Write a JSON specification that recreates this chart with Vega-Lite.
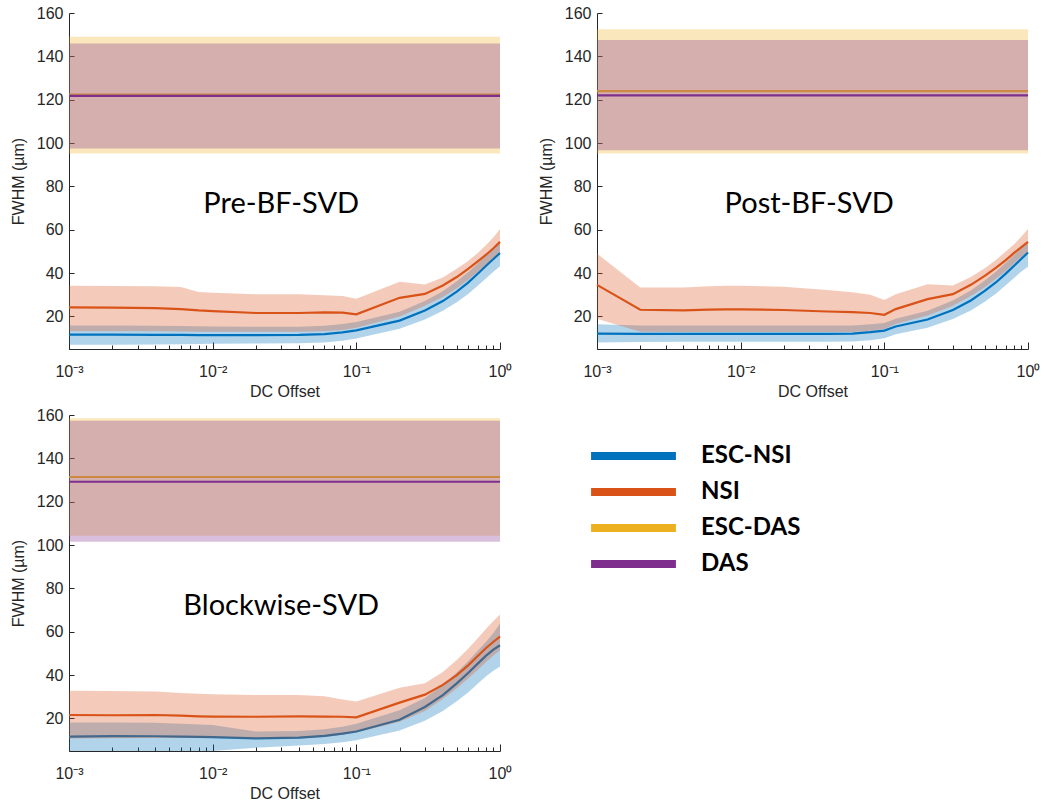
{
  "$schema": "https://vega.github.io/schema/vega-lite/v6.json",
  "background": "white",
  "padding": {"left": 10, "top": 4, "right": 5, "bottom": 5},
  "data": {"values": [
    {"p":"Pre-BF-SVD","s":"NSI","x":0.001,"y":24.2,"lo":13.2,"hi":34.2},
    {"p":"Pre-BF-SVD","s":"NSI","x":0.002,"y":24.1,"lo":13.2,"hi":34.1},
    {"p":"Pre-BF-SVD","s":"NSI","x":0.004,"y":23.9,"lo":13.2,"hi":34.0},
    {"p":"Pre-BF-SVD","s":"NSI","x":0.006,"y":23.4,"lo":13.1,"hi":33.6},
    {"p":"Pre-BF-SVD","s":"NSI","x":0.008,"y":22.8,"lo":13.0,"hi":31.3},
    {"p":"Pre-BF-SVD","s":"NSI","x":0.01,"y":22.5,"lo":13.0,"hi":30.9},
    {"p":"Pre-BF-SVD","s":"NSI","x":0.02,"y":21.6,"lo":13.0,"hi":30.3},
    {"p":"Pre-BF-SVD","s":"NSI","x":0.04,"y":21.6,"lo":13.0,"hi":30.2},
    {"p":"Pre-BF-SVD","s":"NSI","x":0.06,"y":21.9,"lo":13.2,"hi":29.8},
    {"p":"Pre-BF-SVD","s":"NSI","x":0.08,"y":21.8,"lo":13.8,"hi":29.4},
    {"p":"Pre-BF-SVD","s":"NSI","x":0.1,"y":21.0,"lo":14.8,"hi":28.2},
    {"p":"Pre-BF-SVD","s":"NSI","x":0.2,"y":28.6,"lo":20.0,"hi":36.0},
    {"p":"Pre-BF-SVD","s":"NSI","x":0.3,"y":30.4,"lo":25.0,"hi":34.8},
    {"p":"Pre-BF-SVD","s":"NSI","x":0.4,"y":34.3,"lo":29.0,"hi":38.0},
    {"p":"Pre-BF-SVD","s":"NSI","x":0.5,"y":38.2,"lo":33.0,"hi":42.0},
    {"p":"Pre-BF-SVD","s":"NSI","x":0.6,"y":42.0,"lo":37.0,"hi":45.6},
    {"p":"Pre-BF-SVD","s":"NSI","x":0.7,"y":45.4,"lo":40.5,"hi":49.3},
    {"p":"Pre-BF-SVD","s":"NSI","x":0.8,"y":48.5,"lo":44.0,"hi":53.0},
    {"p":"Pre-BF-SVD","s":"NSI","x":0.9,"y":51.5,"lo":47.0,"hi":56.6},
    {"p":"Pre-BF-SVD","s":"NSI","x":1,"y":54.4,"lo":50.0,"hi":60.3},
    {"p":"Pre-BF-SVD","s":"ESC-NSI","x":0.001,"y":11.6,"lo":7.0,"hi":15.8},
    {"p":"Pre-BF-SVD","s":"ESC-NSI","x":0.002,"y":11.6,"lo":7.0,"hi":15.8},
    {"p":"Pre-BF-SVD","s":"ESC-NSI","x":0.004,"y":11.5,"lo":7.1,"hi":15.7},
    {"p":"Pre-BF-SVD","s":"ESC-NSI","x":0.006,"y":11.5,"lo":7.2,"hi":15.6},
    {"p":"Pre-BF-SVD","s":"ESC-NSI","x":0.008,"y":11.4,"lo":7.3,"hi":15.5},
    {"p":"Pre-BF-SVD","s":"ESC-NSI","x":0.01,"y":11.4,"lo":7.4,"hi":15.4},
    {"p":"Pre-BF-SVD","s":"ESC-NSI","x":0.02,"y":11.4,"lo":7.5,"hi":15.3},
    {"p":"Pre-BF-SVD","s":"ESC-NSI","x":0.04,"y":11.5,"lo":7.6,"hi":15.3},
    {"p":"Pre-BF-SVD","s":"ESC-NSI","x":0.06,"y":11.9,"lo":8.0,"hi":15.7},
    {"p":"Pre-BF-SVD","s":"ESC-NSI","x":0.08,"y":12.7,"lo":8.8,"hi":16.5},
    {"p":"Pre-BF-SVD","s":"ESC-NSI","x":0.1,"y":13.6,"lo":9.8,"hi":17.4},
    {"p":"Pre-BF-SVD","s":"ESC-NSI","x":0.2,"y":18.1,"lo":14.3,"hi":22.2},
    {"p":"Pre-BF-SVD","s":"ESC-NSI","x":0.3,"y":22.8,"lo":18.6,"hi":27.2},
    {"p":"Pre-BF-SVD","s":"ESC-NSI","x":0.4,"y":27.1,"lo":22.6,"hi":31.6},
    {"p":"Pre-BF-SVD","s":"ESC-NSI","x":0.5,"y":31.5,"lo":26.6,"hi":36.2},
    {"p":"Pre-BF-SVD","s":"ESC-NSI","x":0.6,"y":35.6,"lo":30.4,"hi":40.4},
    {"p":"Pre-BF-SVD","s":"ESC-NSI","x":0.7,"y":39.7,"lo":34.2,"hi":44.4},
    {"p":"Pre-BF-SVD","s":"ESC-NSI","x":0.8,"y":43.4,"lo":37.6,"hi":48.2},
    {"p":"Pre-BF-SVD","s":"ESC-NSI","x":0.9,"y":46.5,"lo":40.6,"hi":51.4},
    {"p":"Pre-BF-SVD","s":"ESC-NSI","x":1,"y":49.3,"lo":43.2,"hi":54.0},
    {"p":"Pre-BF-SVD","s":"ESC-DAS","x":0.001,"y":122.3,"lo":95.2,"hi":149.0},
    {"p":"Pre-BF-SVD","s":"ESC-DAS","x":1,"y":122.3,"lo":95.2,"hi":149.0},
    {"p":"Pre-BF-SVD","s":"DAS","x":0.001,"y":121.8,"lo":97.5,"hi":145.9},
    {"p":"Pre-BF-SVD","s":"DAS","x":1,"y":121.8,"lo":97.5,"hi":145.9},

    {"p":"Post-BF-SVD","s":"NSI","x":0.001,"y":34.6,"lo":19.0,"hi":49.0},
    {"p":"Post-BF-SVD","s":"NSI","x":0.002,"y":23.1,"lo":13.0,"hi":33.4},
    {"p":"Post-BF-SVD","s":"NSI","x":0.004,"y":22.8,"lo":12.8,"hi":33.4},
    {"p":"Post-BF-SVD","s":"NSI","x":0.006,"y":23.2,"lo":12.8,"hi":34.0},
    {"p":"Post-BF-SVD","s":"NSI","x":0.008,"y":23.3,"lo":12.8,"hi":34.2},
    {"p":"Post-BF-SVD","s":"NSI","x":0.01,"y":23.3,"lo":12.8,"hi":34.2},
    {"p":"Post-BF-SVD","s":"NSI","x":0.02,"y":23.0,"lo":12.8,"hi":33.7},
    {"p":"Post-BF-SVD","s":"NSI","x":0.04,"y":22.3,"lo":12.8,"hi":32.2},
    {"p":"Post-BF-SVD","s":"NSI","x":0.06,"y":22.0,"lo":12.9,"hi":31.2},
    {"p":"Post-BF-SVD","s":"NSI","x":0.08,"y":21.6,"lo":13.4,"hi":30.0},
    {"p":"Post-BF-SVD","s":"NSI","x":0.1,"y":20.8,"lo":14.2,"hi":27.6},
    {"p":"Post-BF-SVD","s":"NSI","x":0.12,"y":23.4,"lo":16.5,"hi":30.3},
    {"p":"Post-BF-SVD","s":"NSI","x":0.2,"y":28.0,"lo":20.5,"hi":34.9},
    {"p":"Post-BF-SVD","s":"NSI","x":0.3,"y":30.3,"lo":25.0,"hi":34.3},
    {"p":"Post-BF-SVD","s":"NSI","x":0.4,"y":34.6,"lo":29.5,"hi":38.2},
    {"p":"Post-BF-SVD","s":"NSI","x":0.5,"y":38.7,"lo":33.5,"hi":42.3},
    {"p":"Post-BF-SVD","s":"NSI","x":0.6,"y":42.5,"lo":37.5,"hi":46.2},
    {"p":"Post-BF-SVD","s":"NSI","x":0.7,"y":46.0,"lo":41.0,"hi":50.0},
    {"p":"Post-BF-SVD","s":"NSI","x":0.8,"y":49.3,"lo":44.5,"hi":53.3},
    {"p":"Post-BF-SVD","s":"NSI","x":0.9,"y":52.0,"lo":47.5,"hi":56.9},
    {"p":"Post-BF-SVD","s":"NSI","x":1,"y":54.4,"lo":50.0,"hi":60.4},
    {"p":"Post-BF-SVD","s":"ESC-NSI","x":0.001,"y":12.1,"lo":8.0,"hi":16.4},
    {"p":"Post-BF-SVD","s":"ESC-NSI","x":0.002,"y":12.0,"lo":8.2,"hi":15.8},
    {"p":"Post-BF-SVD","s":"ESC-NSI","x":0.004,"y":12.0,"lo":8.3,"hi":15.8},
    {"p":"Post-BF-SVD","s":"ESC-NSI","x":0.006,"y":12.0,"lo":8.3,"hi":15.8},
    {"p":"Post-BF-SVD","s":"ESC-NSI","x":0.008,"y":12.0,"lo":8.3,"hi":15.8},
    {"p":"Post-BF-SVD","s":"ESC-NSI","x":0.01,"y":12.0,"lo":8.3,"hi":15.8},
    {"p":"Post-BF-SVD","s":"ESC-NSI","x":0.02,"y":12.0,"lo":8.3,"hi":15.8},
    {"p":"Post-BF-SVD","s":"ESC-NSI","x":0.04,"y":12.0,"lo":8.3,"hi":15.8},
    {"p":"Post-BF-SVD","s":"ESC-NSI","x":0.06,"y":12.1,"lo":8.5,"hi":15.8},
    {"p":"Post-BF-SVD","s":"ESC-NSI","x":0.08,"y":12.8,"lo":9.0,"hi":16.4},
    {"p":"Post-BF-SVD","s":"ESC-NSI","x":0.1,"y":13.5,"lo":10.0,"hi":17.0},
    {"p":"Post-BF-SVD","s":"ESC-NSI","x":0.12,"y":15.4,"lo":11.8,"hi":19.0},
    {"p":"Post-BF-SVD","s":"ESC-NSI","x":0.2,"y":18.6,"lo":14.8,"hi":22.6},
    {"p":"Post-BF-SVD","s":"ESC-NSI","x":0.3,"y":23.0,"lo":18.8,"hi":27.4},
    {"p":"Post-BF-SVD","s":"ESC-NSI","x":0.4,"y":27.4,"lo":22.8,"hi":32.0},
    {"p":"Post-BF-SVD","s":"ESC-NSI","x":0.5,"y":31.8,"lo":26.8,"hi":36.6},
    {"p":"Post-BF-SVD","s":"ESC-NSI","x":0.6,"y":35.8,"lo":30.6,"hi":40.8},
    {"p":"Post-BF-SVD","s":"ESC-NSI","x":0.7,"y":39.8,"lo":34.4,"hi":44.8},
    {"p":"Post-BF-SVD","s":"ESC-NSI","x":0.8,"y":43.4,"lo":37.8,"hi":48.4},
    {"p":"Post-BF-SVD","s":"ESC-NSI","x":0.9,"y":46.6,"lo":40.8,"hi":51.6},
    {"p":"Post-BF-SVD","s":"ESC-NSI","x":1,"y":49.5,"lo":43.0,"hi":54.4},
    {"p":"Post-BF-SVD","s":"ESC-DAS","x":0.001,"y":124.0,"lo":95.2,"hi":152.5},
    {"p":"Post-BF-SVD","s":"ESC-DAS","x":1,"y":124.0,"lo":95.2,"hi":152.5},
    {"p":"Post-BF-SVD","s":"DAS","x":0.001,"y":122.0,"lo":96.7,"hi":147.6},
    {"p":"Post-BF-SVD","s":"DAS","x":1,"y":122.0,"lo":96.7,"hi":147.6},

    {"p":"Blockwise-SVD","s":"NSI","x":0.001,"y":21.6,"lo":10.8,"hi":32.8},
    {"p":"Blockwise-SVD","s":"NSI","x":0.002,"y":21.5,"lo":10.9,"hi":32.7},
    {"p":"Blockwise-SVD","s":"NSI","x":0.004,"y":21.6,"lo":11.0,"hi":32.4},
    {"p":"Blockwise-SVD","s":"NSI","x":0.006,"y":21.3,"lo":11.0,"hi":31.8},
    {"p":"Blockwise-SVD","s":"NSI","x":0.008,"y":21.0,"lo":11.0,"hi":31.4},
    {"p":"Blockwise-SVD","s":"NSI","x":0.01,"y":20.9,"lo":11.0,"hi":31.2},
    {"p":"Blockwise-SVD","s":"NSI","x":0.02,"y":20.8,"lo":10.5,"hi":30.8},
    {"p":"Blockwise-SVD","s":"NSI","x":0.04,"y":21.0,"lo":10.8,"hi":30.8},
    {"p":"Blockwise-SVD","s":"NSI","x":0.06,"y":20.9,"lo":11.5,"hi":30.2},
    {"p":"Blockwise-SVD","s":"NSI","x":0.08,"y":20.8,"lo":12.5,"hi":28.8},
    {"p":"Blockwise-SVD","s":"NSI","x":0.1,"y":20.5,"lo":13.5,"hi":27.8},
    {"p":"Blockwise-SVD","s":"NSI","x":0.2,"y":27.3,"lo":18.5,"hi":34.2},
    {"p":"Blockwise-SVD","s":"NSI","x":0.3,"y":31.0,"lo":23.5,"hi":36.2},
    {"p":"Blockwise-SVD","s":"NSI","x":0.4,"y":35.5,"lo":29.0,"hi":41.5},
    {"p":"Blockwise-SVD","s":"NSI","x":0.5,"y":40.0,"lo":34.0,"hi":47.0},
    {"p":"Blockwise-SVD","s":"NSI","x":0.6,"y":44.5,"lo":38.5,"hi":52.2},
    {"p":"Blockwise-SVD","s":"NSI","x":0.7,"y":48.8,"lo":42.5,"hi":57.0},
    {"p":"Blockwise-SVD","s":"NSI","x":0.8,"y":52.5,"lo":46.0,"hi":61.4},
    {"p":"Blockwise-SVD","s":"NSI","x":0.9,"y":55.4,"lo":49.0,"hi":65.0},
    {"p":"Blockwise-SVD","s":"NSI","x":1,"y":57.8,"lo":51.5,"hi":68.0},
    {"p":"Blockwise-SVD","s":"ESC-NSI","x":0.001,"y":11.6,"lo":5.0,"hi":18.2},
    {"p":"Blockwise-SVD","s":"ESC-NSI","x":0.002,"y":11.9,"lo":5.0,"hi":18.2},
    {"p":"Blockwise-SVD","s":"ESC-NSI","x":0.004,"y":11.8,"lo":5.0,"hi":18.0},
    {"p":"Blockwise-SVD","s":"ESC-NSI","x":0.006,"y":11.6,"lo":5.0,"hi":17.6},
    {"p":"Blockwise-SVD","s":"ESC-NSI","x":0.008,"y":11.5,"lo":5.0,"hi":17.2},
    {"p":"Blockwise-SVD","s":"ESC-NSI","x":0.01,"y":11.4,"lo":5.0,"hi":17.0},
    {"p":"Blockwise-SVD","s":"ESC-NSI","x":0.02,"y":10.8,"lo":6.5,"hi":14.0},
    {"p":"Blockwise-SVD","s":"ESC-NSI","x":0.04,"y":11.2,"lo":7.5,"hi":14.2},
    {"p":"Blockwise-SVD","s":"ESC-NSI","x":0.06,"y":12.0,"lo":8.2,"hi":15.0},
    {"p":"Blockwise-SVD","s":"ESC-NSI","x":0.08,"y":13.0,"lo":9.0,"hi":16.2},
    {"p":"Blockwise-SVD","s":"ESC-NSI","x":0.1,"y":14.0,"lo":10.0,"hi":17.6},
    {"p":"Blockwise-SVD","s":"ESC-NSI","x":0.2,"y":19.4,"lo":14.5,"hi":23.8},
    {"p":"Blockwise-SVD","s":"ESC-NSI","x":0.3,"y":25.3,"lo":19.0,"hi":29.5},
    {"p":"Blockwise-SVD","s":"ESC-NSI","x":0.4,"y":30.8,"lo":23.5,"hi":35.5},
    {"p":"Blockwise-SVD","s":"ESC-NSI","x":0.5,"y":36.2,"lo":28.0,"hi":41.2},
    {"p":"Blockwise-SVD","s":"ESC-NSI","x":0.6,"y":41.0,"lo":32.0,"hi":46.4},
    {"p":"Blockwise-SVD","s":"ESC-NSI","x":0.7,"y":45.3,"lo":36.0,"hi":51.2},
    {"p":"Blockwise-SVD","s":"ESC-NSI","x":0.8,"y":49.0,"lo":39.5,"hi":55.4},
    {"p":"Blockwise-SVD","s":"ESC-NSI","x":0.9,"y":51.8,"lo":42.0,"hi":59.4},
    {"p":"Blockwise-SVD","s":"ESC-NSI","x":1,"y":53.8,"lo":44.0,"hi":63.8},
    {"p":"Blockwise-SVD","s":"ESC-DAS","x":0.001,"y":131.4,"lo":104.3,"hi":158.5},
    {"p":"Blockwise-SVD","s":"ESC-DAS","x":1,"y":131.4,"lo":104.3,"hi":158.5},
    {"p":"Blockwise-SVD","s":"DAS","x":0.001,"y":129.2,"lo":101.5,"hi":157.4},
    {"p":"Blockwise-SVD","s":"DAS","x":1,"y":129.2,"lo":101.5,"hi":157.4}
  ]},
  "facet": {"field": "p", "type": "nominal", "sort": ["Pre-BF-SVD", "Post-BF-SVD", "Blockwise-SVD"], "title": null,
    "header": {"labels": false, "labelExpr": "''", "labelFontSize": 1, "labelPadding": 0}},
  "columns": 2,
  "spacing": {"row": 66, "column": 97},
  "bounds": "flush",
  "resolve": {"axis": {"x": "independent", "y": "independent"}},
  "spec": {
    "width": 431,
    "height": 336,
    "encoding": {
      "x": {"field": "x", "type": "quantitative", "title": "DC Offset",
        "scale": {"type": "log", "domain": [0.001, 1], "nice": false},
        "axis": {
          "values": [0.001,0.002,0.003,0.004,0.005,0.006,0.007,0.008,0.009,0.01,0.02,0.03,0.04,0.05,0.06,0.07,0.08,0.09,0.1,0.2,0.3,0.4,0.5,0.6,0.7,0.8,0.9,1],
          "labelExpr": "datum.value == 0.001 ? '10⁻³' : datum.value == 0.01 ? '10⁻²' : datum.value == 0.1 ? '10⁻¹' : datum.value == 1 ? '10⁰' : ''",
          "tickSize": {"condition": {"test": "indexof([0.001,0.01,0.1,1], datum.value) >= 0", "value": -7}, "value": -4},
          "labelPadding": 21,
          "labelOverlap": false,
          "labelFlush": false,
          "titlePadding": 1
        }
      },
      "color": {"field": "s", "type": "nominal",
        "scale": {"domain": ["ESC-NSI", "NSI", "ESC-DAS", "DAS"], "range": ["#0072BD", "#D95319", "#EDB120", "#7E2F8E"]},
        "legend": {"orient": "none", "legendX": 518, "legendY": 428, "title": null, "symbolType": "stroke", "symbolSize": 7200, "symbolStrokeWidth": 8,
          "symbolOpacity": 1, "labelFont": "Lato", "labelFontSize": 24, "labelFontWeight": "bold", "labelColor": "black", "labelOffset": 21,
          "clipHeight": 30, "rowPadding": 6, "padding": 0}}
    },
    "layer": [
      {"transform": [{"filter": "datum.s == 'ESC-NSI'"}], "mark": {"type": "area", "opacity": 0.3},
       "encoding": {"y": {"field": "lo", "type": "quantitative", "title": "FWHM (µm)", "scale": {"domain": [5, 160], "nice": false, "zero": false}, "axis": {"values": [20, 40, 60, 80, 100, 120, 140, 160]}}, "y2": {"field": "hi"}}},
      {"transform": [{"filter": "datum.s == 'ESC-NSI'"}], "mark": {"type": "line", "strokeWidth": 2.2},
       "encoding": {"y": {"field": "y", "type": "quantitative", "title": "FWHM (µm)", "scale": {"domain": [5, 160], "nice": false, "zero": false}, "axis": {"values": [20, 40, 60, 80, 100, 120, 140, 160]}}}},
      {"transform": [{"filter": "datum.s == 'NSI'"}], "mark": {"type": "area", "opacity": 0.3},
       "encoding": {"y": {"field": "lo", "type": "quantitative", "title": "FWHM (µm)", "scale": {"domain": [5, 160], "nice": false, "zero": false}, "axis": {"values": [20, 40, 60, 80, 100, 120, 140, 160]}}, "y2": {"field": "hi"}}},
      {"transform": [{"filter": "datum.s == 'NSI'"}], "mark": {"type": "line", "strokeWidth": 2.2},
       "encoding": {"y": {"field": "y", "type": "quantitative", "title": "FWHM (µm)", "scale": {"domain": [5, 160], "nice": false, "zero": false}, "axis": {"values": [20, 40, 60, 80, 100, 120, 140, 160]}}}},
      {"transform": [{"filter": "datum.s == 'ESC-DAS'"}], "mark": {"type": "area", "opacity": 0.3},
       "encoding": {"y": {"field": "lo", "type": "quantitative", "title": "FWHM (µm)", "scale": {"domain": [5, 160], "nice": false, "zero": false}, "axis": {"values": [20, 40, 60, 80, 100, 120, 140, 160]}}, "y2": {"field": "hi"}}},
      {"transform": [{"filter": "datum.s == 'ESC-DAS'"}], "mark": {"type": "line", "strokeWidth": 2.2},
       "encoding": {"y": {"field": "y", "type": "quantitative", "title": "FWHM (µm)", "scale": {"domain": [5, 160], "nice": false, "zero": false}, "axis": {"values": [20, 40, 60, 80, 100, 120, 140, 160]}}}},
      {"transform": [{"filter": "datum.s == 'DAS'"}], "mark": {"type": "area", "opacity": 0.3},
       "encoding": {"y": {"field": "lo", "type": "quantitative", "title": "FWHM (µm)", "scale": {"domain": [5, 160], "nice": false, "zero": false}, "axis": {"values": [20, 40, 60, 80, 100, 120, 140, 160]}}, "y2": {"field": "hi"}}},
      {"transform": [{"filter": "datum.s == 'DAS'"}], "mark": {"type": "line", "strokeWidth": 2.2},
       "encoding": {"y": {"field": "y", "type": "quantitative", "title": "FWHM (µm)", "scale": {"domain": [5, 160], "nice": false, "zero": false}, "axis": {"values": [20, 40, 60, 80, 100, 120, 140, 160]}}}},
      {"transform": [{"filter": "datum.s == 'DAS' && datum.x == 0.001"}],
       "mark": {"type": "text", "font": "Lato", "fontSize": 29, "align": "center", "baseline": "middle"},
       "encoding": {"x": {"datum": 0.03, "type": "quantitative"}, "y": {"datum": 72, "type": "quantitative", "title": "FWHM (µm)"}, "text": {"field": "p"}, "color": {"value": "black"}}}
    ]
  },
  "config": {
    "view": {"stroke": null},
    "font": "Liberation Sans",
    "headerFacet": {"labels": false, "labelExpr": "''", "labelFontSize": 1, "labelPadding": 0},
    "axis": {"grid": false, "domainColor": "#262626", "tickColor": "#262626", "labelColor": "#262626", "titleColor": "#262626",
      "labelFont": "Liberation Sans", "titleFont": "Liberation Sans", "labelFontSize": 16, "titleFontSize": 16, "titleFontWeight": "normal"},
    "axisY": {"tickSize": -5, "labelPadding": 11, "titlePadding": 10}
  }
}
